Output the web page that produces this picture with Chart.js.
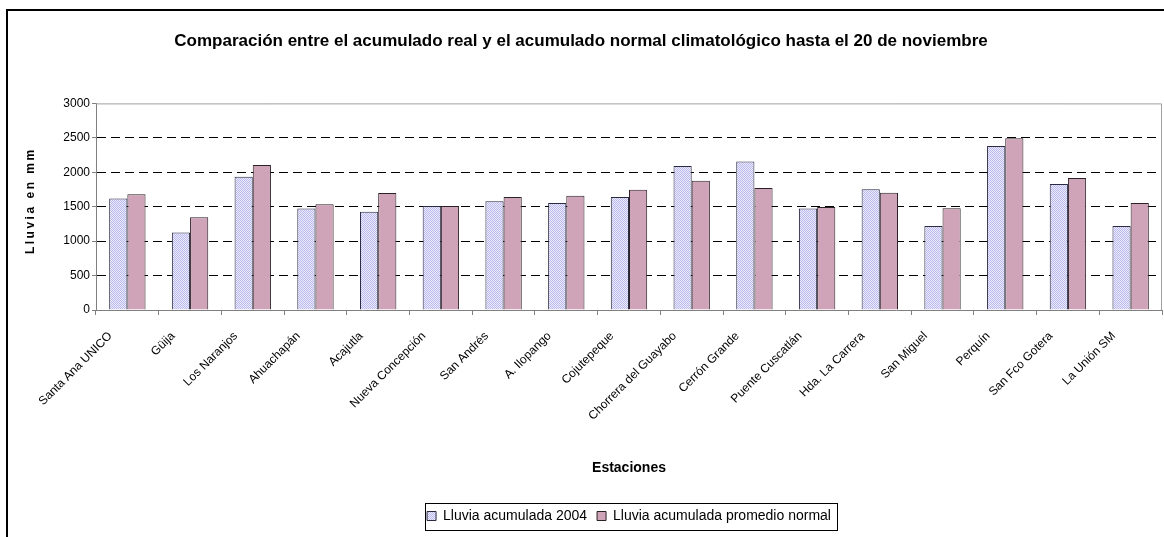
<!DOCTYPE html>
<html>
<head>
<meta charset="utf-8">
<script src="https://cdn.jsdelivr.net/npm/chart.js@4.4.0/dist/chart.umd.min.js"></script>
<style>
  html, body { margin: 0; padding: 0; background: #fff; }
  #wrap { position: relative; width: 1164px; height: 537px; }
</style>
</head>
<body>
<div id="wrap"><canvas id="myChart" width="1164" height="537"></canvas></div>
<script>
// Estaciones y valores (mm)
var estaciones = ['Santa Ana UNICO', 'Güija', 'Los Naranjos', 'Ahuachapán', 'Acajutla',
    'Nueva Concepción', 'San Andrés', 'A. Ilopango', 'Cojutepeque', 'Chorrera del Guayabo',
    'Cerrón Grande', 'Puente Cuscatlán', 'Hda. La Carrera', 'San Miguel', 'Perquín',
    'San Fco Gotera', 'La Unión SM'];
var acumulado2004 = [1620, 1125, 1935, 1475, 1428, 1510, 1578, 1553, 1640, 2090, 2155, 1475, 1752, 1218, 2383, 1830, 1218];
var acumuladoNormal = [1680, 1345, 2107, 1535, 1700, 1510, 1641, 1660, 1747, 1878, 1772, 1495, 1704, 1476, 2495, 1917, 1553];
var yTicks = [0, 500, 1000, 1500, 2000, 2500, 3000];

// checker pattern for the 2004 series
function makePattern() {
    var c = document.createElement('canvas');
    c.width = 2; c.height = 2;
    var p = c.getContext('2d');
    p.fillStyle = '#ececfb'; p.fillRect(0, 0, 2, 2);
    p.fillStyle = '#b9b9ee'; p.fillRect(0, 0, 1, 1); p.fillRect(1, 1, 1, 1);
    return p.createPattern(c, 'repeat');
}

var framePlugin = {
    id: 'frame',
    afterLayout: function (chart) {
        // legend sits a bit right of centre in the original
        chart.legend.left += 48;
        chart.legend.right += 48;
    },
    beforeDraw: function (chart) {
        var ctx = chart.ctx;
        ctx.save();
        ctx.fillStyle = '#fff';
        ctx.fillRect(0, 0, chart.width, chart.height);
        ctx.strokeStyle = '#000';
        ctx.lineWidth = 2;
        ctx.beginPath();
        ctx.moveTo(7, chart.height);
        ctx.lineTo(7, 10);
        ctx.lineTo(chart.width, 10);
        ctx.stroke();
        ctx.restore();
    },
    afterDraw: function (chart) {
        var ctx = chart.ctx, a = chart.chartArea;
        ctx.save();
        // plot area top / right border
        ctx.strokeStyle = '#a0a0a0';
        ctx.lineWidth = 1;
        ctx.beginPath();
        ctx.moveTo(a.left, a.top + 0.5);
        ctx.lineTo(a.right - 0.5, a.top + 0.5);
        ctx.lineTo(a.right - 0.5, a.bottom);
        ctx.stroke();
        // y axis title with letter spacing
        ctx.translate(31, (a.top + a.bottom) / 2 - 6);
        ctx.rotate(-Math.PI / 2);
        ctx.font = 'bold 12px "Liberation Sans", Arial, sans-serif';
        ctx.letterSpacing = '2.5px';
        ctx.fillStyle = '#000';
        ctx.textAlign = 'center';
        ctx.textBaseline = 'middle';
        ctx.fillText('Lluvia en mm', 0, 0);
        ctx.restore();
        // legend outline
        var lg = chart.legend;
        if (lg && lg.lineWidths) {
            var w = lg.lineWidths[0];
            var cx = (lg.left + lg.right) / 2;
            ctx.save();
            ctx.strokeStyle = '#000';
            ctx.lineWidth = 1;
            ctx.strokeRect(Math.round(cx - w / 2) + 3.5, Math.round(lg.top) + 4.5, Math.round(w) - 2, 27);
            ctx.restore();
        }
    }
};

Chart.defaults.font.family = '"Liberation Sans", Arial, sans-serif';
Chart.defaults.color = '#000';

var ctx = document.getElementById('myChart').getContext('2d');
var myBarChart = new Chart(ctx, {
    type: 'bar',
    data: {
        labels: estaciones,
        datasets: [
            {
                label: 'Lluvia acumulada 2004',
                data: acumulado2004,
                backgroundColor: makePattern(),
                borderColor: '#2a2a40',
                borderWidth: 1,
                borderSkipped: 'bottom'
            },
            {
                label: 'Lluvia acumulada promedio normal',
                data: acumuladoNormal,
                backgroundColor: '#d0a4b8',
                borderColor: '#2a2226',
                borderWidth: 1,
                borderSkipped: 'bottom'
            }
        ]
    },
    options: {
        responsive: false,
        animation: false,
        layout: { padding: { left: 0, right: 2, top: 0, bottom: 4 } },
        categoryPercentage: 0.58,
        barPercentage: 1.0,
        plugins: {
            title: {
                display: true,
                text: 'Comparación entre el acumulado real y el acumulado normal climatológico hasta el 20 de noviembre',
                font: { size: 17, weight: 'bold' },
                padding: { top: 31, bottom: 52 }
            },
            legend: {
                position: 'bottom',
                labels: {
                    font: { size: 14 },
                    boxWidth: 9,
                    boxHeight: 9,
                    padding: 10
                }
            },
            tooltip: { enabled: false }
        },
        scales: {
            x: {
                grid: { drawOnChartArea: false, tickLength: 5, tickColor: '#808080', offset: true },
                border: { color: '#808080' },
                ticks: { font: { size: 12 }, minRotation: 45, maxRotation: 45, autoSkip: false, labelOffset: -17, padding: 14 },
                title: { display: true, text: 'Estaciones', font: { size: 14, weight: 'bold' }, padding: { top: 0, bottom: 22 } },
                afterFit: function (s) { s.height = 189; }
            },
            y: {
                min: 0,
                max: 3000,
                afterBuildTicks: function (s) { s.ticks = yTicks.map(function (v) { return { value: v }; }); },
                grid: {
                    color: function (c) { return (c.tick && (c.tick.value === 0 || c.tick.value === 3000)) ? 'rgba(0,0,0,0)' : '#000'; },
                    tickColor: '#808080',
                    tickLength: 4,
                    tickBorderDash: []
                },
                border: { color: '#808080', dash: [9, 5] },
                ticks: { font: { size: 12 }, padding: 2, callback: function (v) { return String(v); } },
                afterFit: function (s) { s.width = 96; }
            }
        }
    },
    plugins: [framePlugin]
});
</script>
</body>
</html>
